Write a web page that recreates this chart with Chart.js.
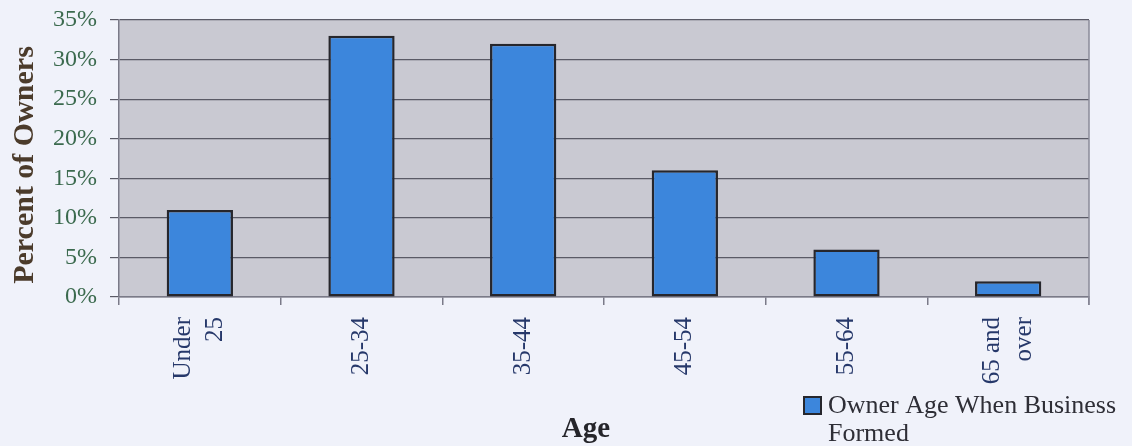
<!DOCTYPE html>
<html>
<head>
<meta charset="utf-8">
<script src="https://cdn.jsdelivr.net/npm/chart.js@4"></script>
<style>
  html, body { margin: 0; padding: 0; background: #f0f2fa; }
  #wrap { width: 1132px; height: 446px; position: relative; }
</style>
</head>
<body>
<div id="wrap"><canvas id="chart"></canvas></div>
<script>
// Age groups of owners and the share of owners in each group (%)
const ageGroups = [['Under', '25'], '25-34', '35-44', '45-54', '55-64', ['65 and', 'over']];
const ownerShare = [11, 33, 32, 16, 6, 2];
const seriesName = 'Owner Age When Business Formed';
const legendLines = ['Owner Age When Business', 'Formed'];
const yTitle = 'Percent of Owners';
const xTitle = 'Age';
const yMax = 35;
const yStep = 5;

const BAR_FILL = '#3c86dc';
const BAR_EDGE = '#26262c';
const PLOT_BG = '#c9c9d2';
const GRID = '#5a5a66';
const X_LABEL_FONT = '25px "Liberation Serif"';
const X_LINE_GAP = 32;

// Plot background, frame, category labels, axis titles and the legend block
const decor = {
  id: 'decor',
  beforeDraw(chart) {
    const { ctx, chartArea: a } = chart;
    ctx.save();
    ctx.fillStyle = PLOT_BG;
    ctx.fillRect(a.left, a.top, a.right - a.left, a.bottom - a.top);
    ctx.restore();
  },
  afterDraw(chart) {
    const { ctx, chartArea: a } = chart;
    const xScale = chart.scales.x;
    ctx.save();
    // right edge of the plot frame
    ctx.strokeStyle = '#8a8a98';
    ctx.lineWidth = 1.5;
    ctx.beginPath();
    ctx.moveTo(a.right, a.top);
    ctx.lineTo(a.right, a.bottom + 8);
    ctx.stroke();

    // category labels, read upward, each group centred on its bar
    ctx.fillStyle = '#26386a';
    ctx.font = X_LABEL_FONT;
    ctx.textAlign = 'right';
    ctx.textBaseline = 'middle';
    chart.data.labels.forEach((lab, i) => {
      const lines = Array.isArray(lab) ? lab : [lab];
      const cx = xScale.getPixelForValue(i);
      const first = cx - (lines.length - 1) * X_LINE_GAP / 2;
      lines.forEach((line, j) => {
        ctx.save();
        ctx.translate(first + j * X_LINE_GAP, a.bottom + 20);
        ctx.rotate(-Math.PI / 2);
        ctx.fillText(line, 0, 0);
        ctx.restore();
      });
    });

    // y axis title
    ctx.fillStyle = '#4b3b2b';
    ctx.font = 'bold 30px "Liberation Serif"';
    ctx.textAlign = 'center';
    ctx.textBaseline = 'middle';
    ctx.save();
    ctx.translate(25, 165);
    ctx.rotate(-Math.PI / 2);
    ctx.fillText(yTitle, 0, 0);
    ctx.restore();

    // x axis title
    ctx.fillStyle = '#25252a';
    ctx.font = 'bold 29px "Liberation Serif"';
    ctx.textAlign = 'center';
    ctx.textBaseline = 'alphabetic';
    ctx.fillText(xTitle, 586, 437);

    // legend
    ctx.fillStyle = BAR_FILL;
    ctx.fillRect(804, 397, 17, 17);
    ctx.strokeStyle = BAR_EDGE;
    ctx.lineWidth = 2;
    ctx.strokeRect(804, 397, 17, 17);
    ctx.fillStyle = '#2e2e36';
    ctx.font = '26px "Liberation Serif"';
    ctx.textAlign = 'left';
    ctx.fillText(legendLines[0], 828, 413);
    ctx.fillText(legendLines[1], 828, 441);
    ctx.restore();
  }
};

new Chart(document.getElementById('chart'), {
  type: 'bar',
  data: {
    labels: ageGroups,
    datasets: [{
      label: seriesName,
      data: ownerShare,
      backgroundColor: BAR_FILL,
      borderColor: BAR_EDGE,
      borderWidth: 2.5,
      borderSkipped: false,
      barPercentage: 0.41,
      categoryPercentage: 1
    }]
  },
  options: {
    responsive: true,
    maintainAspectRatio: false,
    animation: false,
    layout: { padding: { left: 0, right: 43, top: 20, bottom: 0 } },
    plugins: {
      legend: { display: false },
      tooltip: { enabled: false }
    },
    scales: {
      x: {
        grid: {
          offset: true,
          drawOnChartArea: false,
          drawTicks: true,
          tickLength: 8,
          color: '#7a7a88',
          lineWidth: 1.5
        },
        border: { color: '#7a7a88', width: 1.5 },
        ticks: { display: false },
        afterFit(scale) { scale.height = 446 - 297; }
      },
      y: {
        min: 0,
        max: yMax,
        ticks: {
          stepSize: yStep,
          padding: 13,
          color: '#3b6a4e',
          font: { family: '"Liberation Serif"', size: 24 },
          callback: v => v + '%'
        },
        grid: {
          color: GRID,
          lineWidth: 1.2,
          tickLength: 9
        },
        border: { color: '#7a7a88', width: 1.5 },
        afterFit(scale) {
          scale.width = 119;
          scale.paddingTop = 0;
          scale.paddingBottom = 0;
        }
      }
    }
  },
  plugins: [decor]
});
</script>
</body>
</html>
